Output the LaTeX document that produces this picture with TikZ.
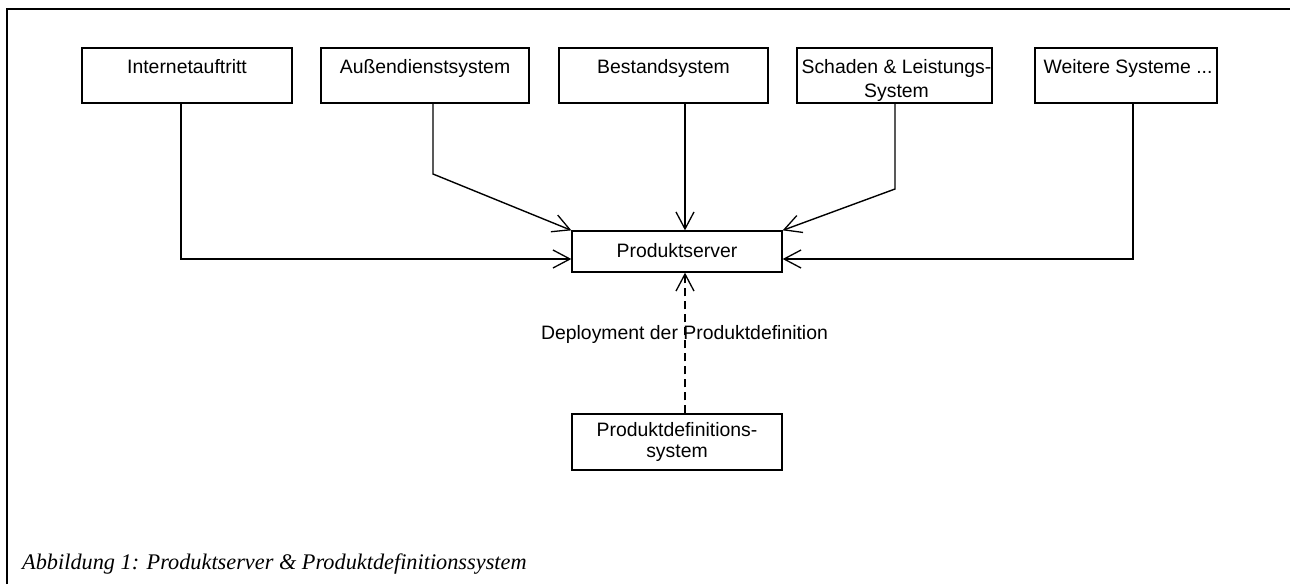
\documentclass[tikz,border=0pt]{standalone}
\usepackage{fontspec}
\setmainfont{Liberation Sans}
\newfontfamily\capfont{Liberation Serif}
\usetikzlibrary{arrows.meta}
\begin{document}
\begin{tikzpicture}[x=1pt,y=-1pt,
  box/.style={draw, line width=1.3pt, inner sep=0pt},
  lbl/.style={inner sep=0pt, font=\fontsize{19.4}{23.5}\selectfont, align=center},
  tip/.style={-{Straight Barb[length=17pt,width=18pt,line width=1.3pt]}},
  conn/.style={line width=1.4pt, tip},
]
\useasboundingbox[fill=white] (0,0) rectangle (1290,584);
% frame
\coordinate (fbl) at (7,584);
\coordinate (ftl) at (7,9);
\coordinate (ftr) at (1290,9);
\draw[line width=1.5pt] (fbl) -- (ftl) -- (ftr);

% boxes
\node[box, minimum width=210pt, minimum height=55pt] (inet) at (187,75.5) {};
\node[box, minimum width=208pt, minimum height=55pt] (aussen) at (425,75.5) {};
\node[box, minimum width=209pt, minimum height=55pt] (bestand) at (663.5,75.5) {};
\node[box, minimum width=195pt, minimum height=55pt] (schaden) at (894.5,75.5) {};
\node[box, minimum width=182pt, minimum height=55pt] (weitere) at (1126,75.5) {};
\node[box, minimum width=210pt, minimum height=41pt] (server) at (677,251.5) {};
\node[box, minimum width=210pt, minimum height=56pt] (pdef) at (677,442) {};

% texts
\node[lbl, anchor=north] (inetT) at (187,59.5) {Internetauftritt};
\node[lbl, anchor=north] (aussenT) at (425,59.5) {Außendienstsystem};
\node[lbl, anchor=north] (bestandT) at (663.5,59.5) {Bestandsystem};
\node[lbl, anchor=north] (schadenT) at (896.5,59.5) {Schaden \& Leistungs-\\System};
\node[lbl, anchor=north] (weitereT) at (1128,59.5) {Weitere Systeme ...};
\node[lbl] (serverT) at (677,251) {Produktserver};
\node[lbl, font=\fontsize{19.4}{21.5}\selectfont] (pdefT) at (677,442) {Produktdefinitions-\\system};
\node[lbl, anchor=base] (dep) at (684.5,339) {Deployment der Produktdefinition};

% connector helpers
\coordinate (ib) at (181,259);
\coordinate (a1) at (433,174);
\coordinate (dx) at (685,0);
\coordinate (s1) at (895,189);
\coordinate (wb) at (1133,259);

\draw[conn] (inet.south -| ib) |- (ib -| server.west);
\draw[conn] (aussen.south -| a1) -- (a1) -- (server.north west);
\draw[conn] (bestand.south -| dx) -- (server.north -| dx);
\draw[conn] (schaden.south -| s1) -- (s1) -- (server.north east);
\draw[conn] (weitere.south -| wb) |- (wb -| server.east);
\draw[conn, dash pattern=on 8pt off 5pt] (pdef.north -| dx) -- (server.south -| dx);

% caption
\node[anchor=base west, inner sep=0pt, font=\capfont\itshape\fontsize{22.3}{26}\selectfont] (cap) at (22,569) {Abbildung 1: Produktserver \& Produktdefinitionssystem};
\end{tikzpicture}
\end{document}
